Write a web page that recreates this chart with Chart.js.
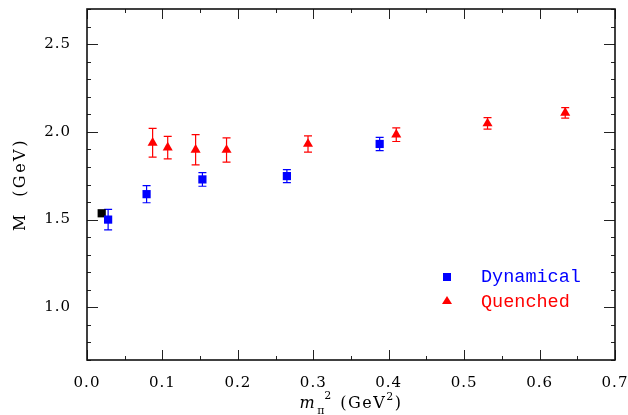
<!DOCTYPE html>
<html>
<head>
<meta charset="utf-8">
<script src="https://cdn.jsdelivr.net/npm/chart.js@4.4.1/dist/chart.umd.min.js"></script>
<style>
  html, body { margin: 0; padding: 0; background: #fff; }
  #wrap { width: 628px; height: 415px; }
</style>
</head>
<body>
<div id="wrap"><canvas id="c" width="628" height="415"></canvas></div>
<script>
// m_pi^2 (GeV^2) vs M (GeV)
const dynX   = [0.028, 0.079, 0.153, 0.265, 0.388];
const dynY   = [1.500, 1.645, 1.729, 1.748, 1.931];
const dynErr = [0.058, 0.049, 0.039, 0.037, 0.038];

const quenX   = [0.087, 0.107, 0.144, 0.185, 0.293, 0.410, 0.531, 0.634];
const quenY   = [1.938, 1.910, 1.898, 1.897, 1.931, 1.984, 2.048, 2.108];
const quenErr = [0.082, 0.064, 0.086, 0.069, 0.046, 0.039, 0.033, 0.030];

// physical point
const physX = [0.0195];
const physY = [1.536];

const xTicks = [0.0, 0.1, 0.2, 0.3, 0.4, 0.5, 0.6, 0.7];
const yTicks = [1.0, 1.5, 2.0, 2.5];

const SERIF = '"DejaVu Serif", serif';
const MONO = '"Liberation Mono", monospace';

const toPts = (xs, ys) => xs.map((v, i) => ({ x: v, y: ys[i] }));

// a bit of tracking on the tick labels (computer modern look)
const spacing = {
    id: 'spacing',
    beforeUpdate(chart) { chart.ctx.letterSpacing = '1px'; },
    beforeDraw(chart) { chart.ctx.letterSpacing = '1px'; }
};

// vertical error bars with caps
const errorBars = {
    id: 'errorBars',
    beforeDatasetsDraw(chart) {
        const { ctx, scales: { x, y } } = chart;
        chart.data.datasets.forEach(ds => {
            if (!ds.errors) return;
            ctx.save();
            ctx.strokeStyle = ds.borderColor;
            ctx.lineWidth = 1.2;
            ds.data.forEach((p, i) => {
                const px = x.getPixelForValue(p.x);
                const top = y.getPixelForValue(p.y + ds.errors[i]);
                const bot = y.getPixelForValue(p.y - ds.errors[i]);
                ctx.beginPath();
                ctx.moveTo(px, top); ctx.lineTo(px, bot);
                ctx.moveTo(px - 4, top); ctx.lineTo(px + 4, top);
                ctx.moveTo(px - 4, bot); ctx.lineTo(px + 4, bot);
                ctx.stroke();
            });
            ctx.restore();
        });
    }
};

// frame with inward ticks on all four sides, titles, legend
const frame = {
    id: 'frame',
    afterDraw(chart) {
        const { ctx, chartArea: a, scales: { x, y } } = chart;
        ctx.save();
        ctx.letterSpacing = '0px';
        ctx.strokeStyle = '#222';
        ctx.lineWidth = 1;
        const line = (x1, y1, x2, y2) => {
            ctx.beginPath(); ctx.moveTo(x1, y1); ctx.lineTo(x2, y2); ctx.stroke();
        };
        for (let i = 0; i <= 14; i++) {
            const px = Math.round(x.getPixelForValue(i * 0.05)) + 0.5;
            const len = i % 2 === 0 ? 10 : 4;
            line(px, a.bottom, px, a.bottom - len);
            line(px, a.top, px, a.top + len);
        }
        for (let i = 7; i <= 27; i++) {
            const py = Math.round(y.getPixelForValue(i / 10)) + 0.5;
            const len = i % 5 === 0 ? 11 : 4;
            line(a.left, py, a.left + len, py);
            line(a.right, py, a.right - len, py);
        }
        ctx.lineWidth = 1.6;
        ctx.strokeStyle = '#111';
        ctx.strokeRect(a.left, a.top, a.width, a.height);

        // y title
        ctx.fillStyle = '#000';
        ctx.save();
        ctx.translate(25, (a.top + a.bottom) / 2);
        ctx.rotate(-Math.PI / 2);
        ctx.font = '16px ' + SERIF;
        ctx.letterSpacing = '2.5px';
        ctx.textAlign = 'center';
        ctx.textBaseline = 'alphabetic';
        ctx.fillText('M  (GeV)', 0, 0);
        ctx.restore();

        // x title: m_pi^2 (GeV^2)
        ctx.save();
        ctx.textBaseline = 'alphabetic';
        ctx.textAlign = 'left';
        const base = 408;
        const big = '16px ' + SERIF, small = '11px ' + SERIF;
        ctx.letterSpacing = '1.5px';
        ctx.font = 'italic ' + big;
        const wm = ctx.measureText('m').width;
        ctx.font = big;
        const wg = ctx.measureText('(GeV').width;
        const wp = ctx.measureText(')').width;
        ctx.font = small;
        const w2 = ctx.measureText('2').width;
        const total = wm + 14 + 10 + wg + w2 + wp;
        let cx = (a.left + a.right) / 2 - total / 2;
        ctx.font = 'italic ' + big;
        ctx.fillText('m', cx, base);
        cx += wm;
        ctx.font = small;
        ctx.fillText('π', cx + 1, base + 6);
        ctx.fillText('2', cx + 8, base - 9);
        cx += 14 + 10;
        ctx.font = big;
        ctx.fillText('(GeV', cx, base);
        cx += wg;
        ctx.font = small;
        ctx.fillText('2', cx, base - 8);
        cx += w2;
        ctx.font = big;
        ctx.fillText(')', cx, base);
        ctx.restore();

        // legend
        const lx = 447, ly1 = 277, ly2 = 301;
        ctx.fillStyle = '#0000ff';
        ctx.fillRect(lx - 4, ly1 - 4, 8, 8);
        ctx.fillStyle = '#ff0000';
        ctx.beginPath();
        ctx.moveTo(lx, ly2 - 5); ctx.lineTo(lx + 5, ly2 + 3); ctx.lineTo(lx - 5, ly2 + 3);
        ctx.closePath(); ctx.fill();
        ctx.font = '18.5px ' + MONO;
        ctx.textBaseline = 'middle';
        ctx.textAlign = 'left';
        ctx.fillStyle = '#0000ff';
        ctx.fillText('Dynamical', lx + 34, ly1);
        ctx.fillStyle = '#ff0000';
        ctx.fillText('Quenched', lx + 34, ly2 + 1);
        ctx.restore();
    }
};

new Chart(document.getElementById('c'), {
    type: 'scatter',
    data: {
        datasets: [
            {
                label: 'Dynamical',
                data: toPts(dynX, dynY),
                errors: dynErr,
                pointStyle: 'rect',
                pointRadius: 5.8,
                backgroundColor: '#0000ff',
                borderColor: '#0000ff',
                borderWidth: 0
            },
            {
                label: 'Quenched',
                data: toPts(quenX, quenY),
                errors: quenErr,
                pointStyle: 'triangle',
                pointRadius: 5.8,
                backgroundColor: '#ff0000',
                borderColor: '#ff0000',
                borderWidth: 0
            },
            {
                label: 'Physical',
                data: toPts(physX, physY),
                pointStyle: 'rect',
                pointRadius: 5.8,
                backgroundColor: '#000',
                borderColor: '#000',
                borderWidth: 0
            }
        ]
    },
    options: {
        responsive: false,
        animation: false,
        layout: { autoPadding: false, padding: { top: 9, right: 13, left: 0, bottom: 0 } },
        plugins: { legend: { display: false }, tooltip: { enabled: false } },
        scales: {
            x: {
                type: 'linear', min: 0, max: 0.7,
                afterBuildTicks: s => { s.ticks = xTicks.map(v => ({ value: v })); },
                afterFit: s => { s.height = 55; s.paddingLeft = 0; s.paddingRight = 0; },
                grid: { display: false, drawTicks: false },
                border: { display: false },
                ticks: {
                    autoSkip: false, maxRotation: 0, padding: 14,
                    color: '#000', font: { family: SERIF, size: 15 },
                    callback: v => Number(v).toFixed(1)
                }
            },
            y: {
                type: 'linear', min: 0.7, max: 2.7,
                afterBuildTicks: s => { s.ticks = yTicks.map(v => ({ value: v })); },
                afterFit: s => { s.width = 87; s.paddingTop = 0; s.paddingBottom = 0; },
                grid: { display: false, drawTicks: false },
                border: { display: false },
                ticks: {
                    autoSkip: false, padding: 16,
                    color: '#000', font: { family: SERIF, size: 15 },
                    callback: v => Number(v).toFixed(1)
                }
            }
        }
    },
    plugins: [spacing, errorBars, frame]
});
</script>
</body>
</html>
